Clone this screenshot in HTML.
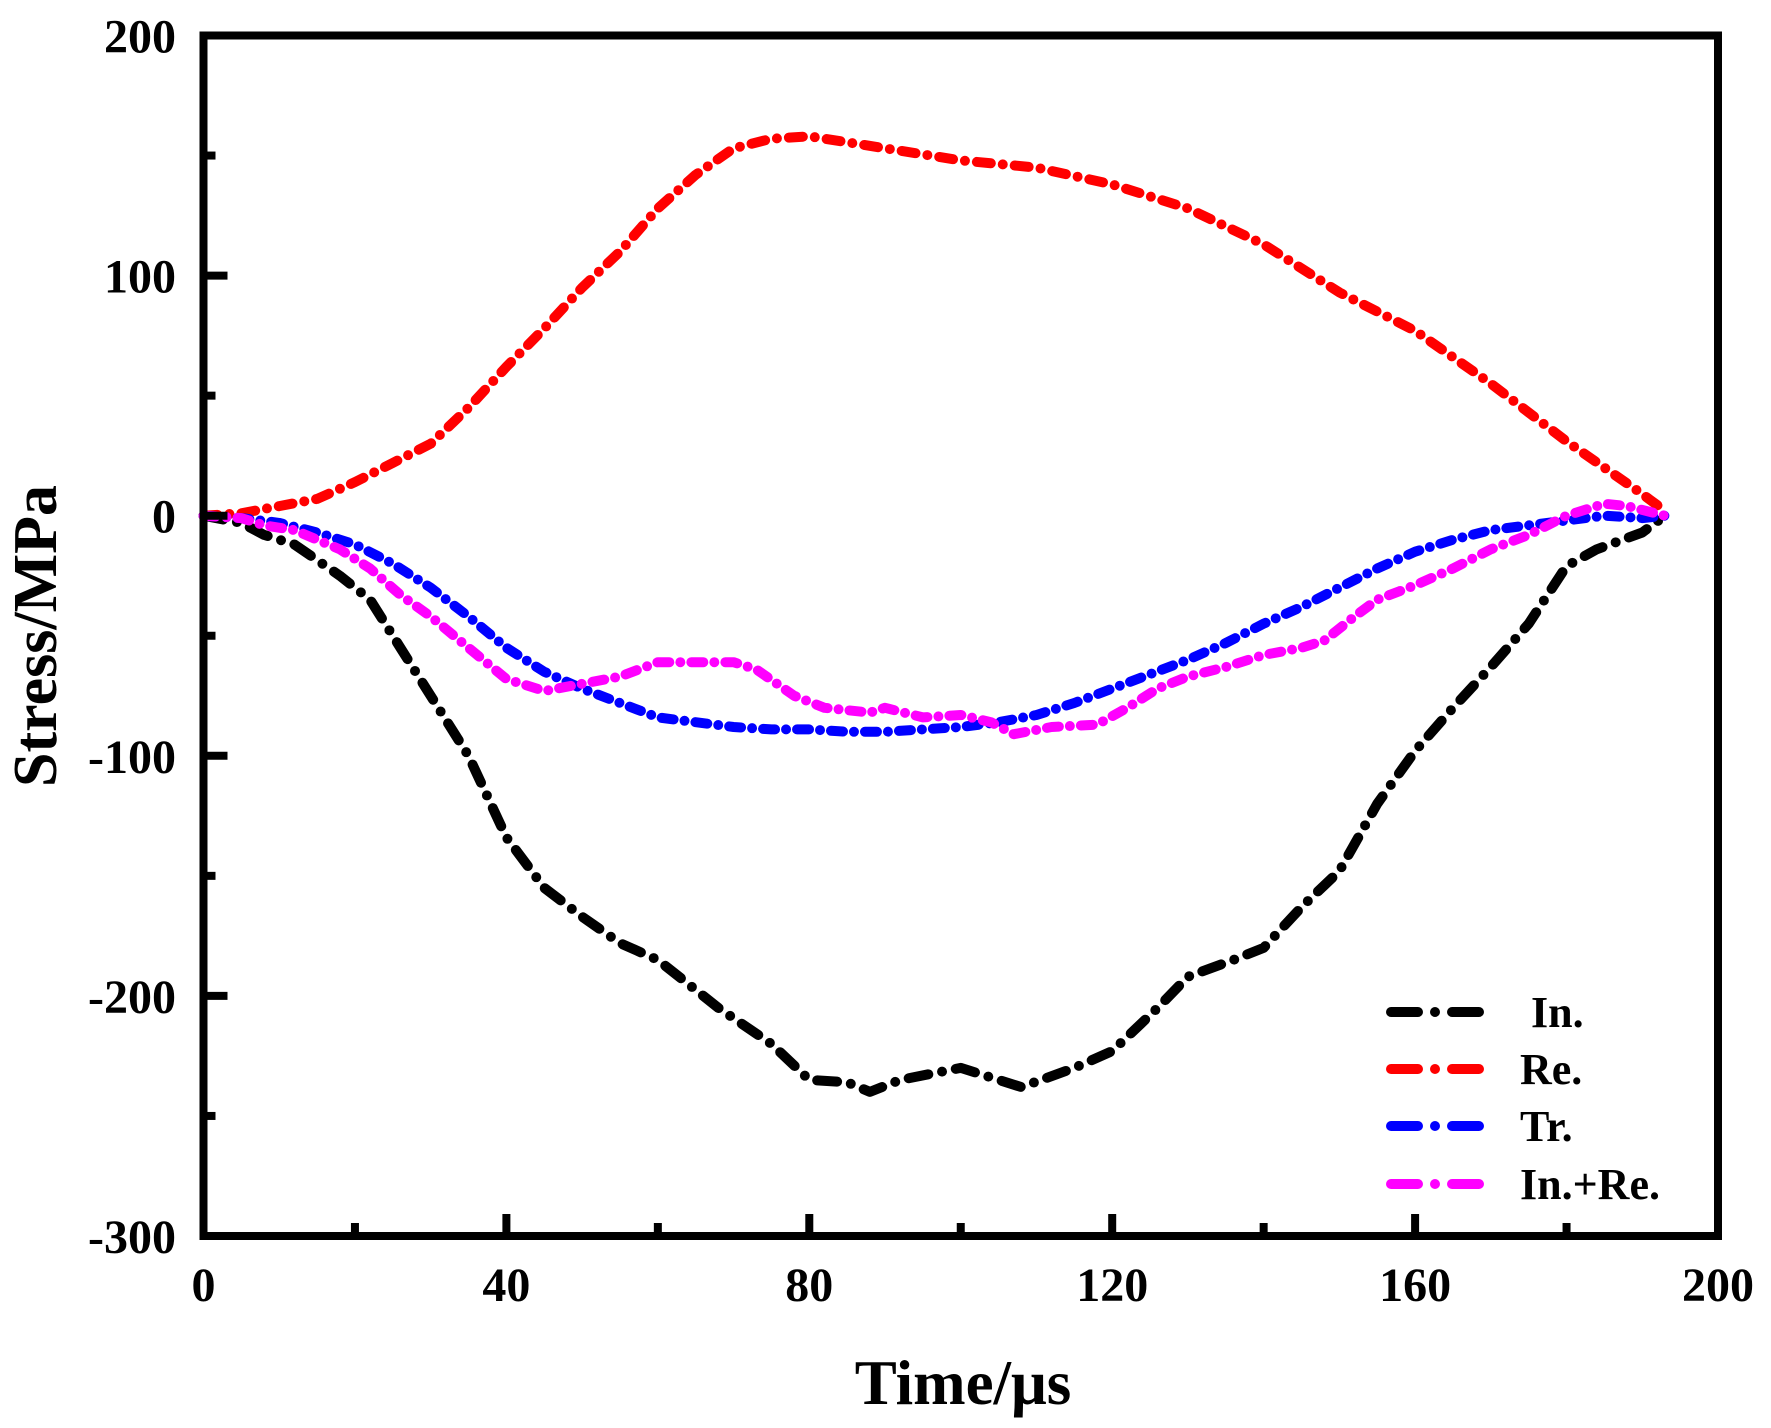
<!DOCTYPE html>
<html><head><meta charset="utf-8"><style>
html,body{margin:0;padding:0;background:#fff}
svg{display:block;font-family:"Liberation Serif",serif;font-weight:bold}
</style></head><body>
<svg id="chart" width="1771" height="1428" viewBox="0 0 1771 1428">
<g id="series"></g>
<rect x="203.5" y="35.5" width="1514.5" height="1200.5" fill="none" stroke="#000" stroke-width="8"/>
<g id="axes"></g>
<text x="963" y="1404" font-size="63" text-anchor="middle">Time/μs</text>
<text transform="translate(56,636) rotate(-90)" font-size="62" text-anchor="middle">Stress/MPa</text>
<g id="legend"></g>
</svg>
<script>
const seriesNames = ["In.", "Re.", "Tr.", "In.+Re."];
const seriesColors = ["#000000", "#ff0000", "#0000ff", "#ff00ff"];
const inT = [0,5,8,12,18,22,26,30,35,40,45,50,55,60,68,75,80,85,88,92,100,108,115,120,126,130,136,140,145,150,155,160,165,170,175,180,184,190,193];
const inV = [0,-3,-8,-12,-25,-35,-55,-75,-100,-134,-155,-167,-178,-185,-205,-220,-235,-236,-240,-235,-230,-238,-230,-223,-205,-192,-185,-180,-163,-148,-120,-98,-80,-63,-45,-21,-14,-7,0];
const reT = [0,5,10,15,20,25,30,35,40,45,50,55,60,65,70,75,80,90,100,110,120,130,140,150,160,170,180,185,190,193];
const reV = [0,1,4,7,14,22,30,45,62,78,95,110,128,142,153,157,158,153,148,145,138,128,113,93,77,55,31,20,9,2];
const trT = [0,5,10,15,20,25,30,35,40,45,50,55,60,65,70,75,80,85,90,95,100,105,110,115,120,125,130,135,140,145,150,155,160,165,170,175,180,185,190,193];
const trV = [0,-1,-3,-7,-12,-20,-30,-42,-55,-65,-72,-78,-84,-86,-88,-89,-89,-90,-90,-89,-88,-86,-83,-78,-72,-66,-60,-53,-45,-38,-30,-22,-15,-10,-6,-4,-2,0,-1,0];
const irT = [0,5,8,12,18,22,26,30,35,40,45,50,55,60,65,70,73,78,82,88,90,95,100,104,107,112,118,122,126,130,135,140,145,148,152,155,160,165,170,175,180,185,188,193];
const irV = [0,-1,-4,-6,-14,-22,-33,-42,-55,-68,-73,-70,-67,-61,-61,-61,-64,-75,-80,-82,-80,-84,-83,-86,-91,-88,-87,-80,-72,-67,-63,-58,-55,-52,-42,-35,-29,-22,-14,-8,0,5,4,0];
const xTicks = [0,40,80,120,160,200];
const xMinor = [20,60,100,140,180];
const yTicks = [-300,-200,-100,0,100,200];
const yMinor = [-250,-150,-50,50,150];

const NS = "http://www.w3.org/2000/svg";
const X0=203.5, X1=1718, Y0=1236, Y1=35.5;
const xs = v => X0 + (v-0)/(200-0)*(X1-X0);
const ys = v => Y0 - (v+300)/(500)*(Y0-Y1);
function mk(tag, attrs, parent){const e=document.createElementNS(NS,tag);for(const k in attrs)e.setAttribute(k,attrs[k]);parent.appendChild(e);return e;}

const axes=document.getElementById('axes');
xTicks.forEach(t=>{
  const l=mk('line',{x1:xs(t),x2:xs(t),y1:Y0,y2:Y0-22,stroke:'#000','stroke-width':8},axes);
  
  
  const tx=mk('text',{x:xs(t),y:1301,'font-size':48,'text-anchor':'middle'},axes);
  tx.textContent=t;
  
  
});
xMinor.forEach(t=>{
  const l=mk('line',{x1:xs(t),x2:xs(t),y1:Y0,y2:Y0-13,stroke:'#000','stroke-width':8},axes);
  
  
});
yTicks.forEach(t=>{
  const l=mk('line',{x1:X0,x2:X0+24,y1:ys(t),y2:ys(t),stroke:'#000','stroke-width':8},axes);
  
  
  const tx=mk('text',{x:176,y:ys(t)+17,'font-size':48,'text-anchor':'end'},axes);
  tx.textContent=t;
  
  
});
yMinor.forEach(t=>{
  const l=mk('line',{x1:X0,x2:X0+12,y1:ys(t),y2:ys(t),stroke:'#000','stroke-width':8},axes);
  
  
});

const data=[[inT,inV],[reT,reV],[trT,trV],[irT,irV]];
const sg=document.getElementById('series');
const curveDash=["20 14 0 14","14 12 0 12","12 11 0 11","12 11 0 11"];
const seriesDataNames=['incident-wave-line','reflected-wave-line','transmitted-wave-line','incident-plus-reflected-line'];
data.forEach((d,i)=>{
  const pts=d[0].map((t,j)=>xs(t).toFixed(1)+','+ys(d[1][j]).toFixed(1)).join(' ');
  const p=mk('polyline',{points:pts,fill:'none',stroke:seriesColors[i],'stroke-width':10,'stroke-linecap':'round','stroke-linejoin':'round','stroke-dasharray':curveDash[i]},sg);
  
  
});

const lg=document.getElementById('legend');
const rowY=[1012,1069,1126,1184];
const textX=[1531,1520,1520,1520];
seriesNames.forEach((n,i)=>{
  const l=mk('line',{x1:1391,x2:1491,y1:rowY[i],y2:rowY[i],stroke:seriesColors[i],'stroke-width':10,'stroke-linecap':'round','stroke-dasharray':"27 17 0 17"},lg);
  
  
  const tx=mk('text',{x:textX[i],y:rowY[i]+15,'font-size':44},lg);
  tx.textContent=n;
  
  
});
</script>
</body></html>
